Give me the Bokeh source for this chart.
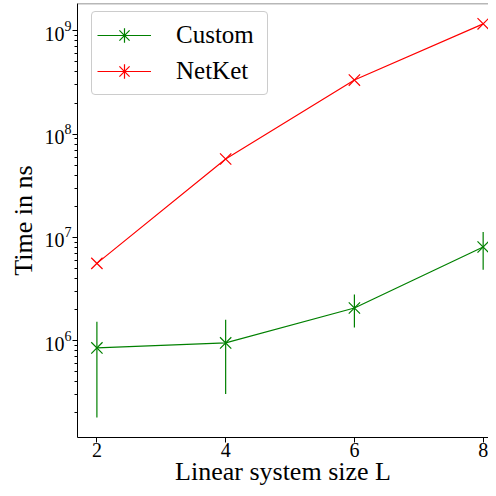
import math
from bokeh.plotting import figure
from bokeh.models import (Range1d, FixedTicker, Legend, LegendItem, ColumnDataSource,
                          Span, LogTickFormatter)
from bokeh.embed import file_html
from bokeh.resources import INLINE

# ---- data ----
L_values = [2, 4, 6, 8]
custom_time = [8.5e5, 9.5e5, 2.07e6, 8.07e6]
custom_err = [6.7e5, 6.45e5, 7.3e5, 3.2e6]
netket_time = [5.6e6, 5.74e7, 3.34e8, 1.17e9]
netket_err = [0.0, 0.0, 0.0, 0.0]
x_ticks = [2, 4, 6, 8]
y_major_ticks = [1e5, 1e6, 1e7, 1e8, 1e9]
y_minor_ticks = [k * 10 ** n for n in range(5, 10) for k in range(2, 10)]
series_names = ["Custom", "NetKet"]

FONT = "Liberation Serif"
GREEN = "#008000"
RED = "#ff0000"

x_lo, x_hi = 1.6987, 8.083
y_lo, y_hi = 10 ** 5.062, 10 ** 9.2651

p = figure(width=488, height=488, y_axis_type="log",
           x_range=Range1d(x_lo, x_hi), y_range=Range1d(y_lo, y_hi),
           output_backend="svg", toolbar_location=None,
           min_border_left=77, min_border_right=0, min_border_top=3, min_border_bottom=49)
p.grid.visible = False
p.outline_line_color = None
p.background_fill_color = "white"
p.border_fill_color = "white"

p.add_layout(Span(location=y_hi, dimension="width", line_color="#707070", line_width=1.5))

# axes
p.xaxis.ticker = FixedTicker(ticks=x_ticks, minor_ticks=[])
p.yaxis.ticker = FixedTicker(ticks=y_major_ticks, minor_ticks=y_minor_ticks)
p.yaxis.formatter = LogTickFormatter()
for ax in (p.xaxis, p.yaxis):
    ax.axis_line_color = "black"
    ax.axis_line_width = 1
    ax.major_tick_line_color = "black"
    ax.minor_tick_line_color = "black"
    ax.major_tick_out = 5
    ax.major_tick_in = 0
    ax.minor_tick_out = 3
    ax.minor_tick_in = 0
    ax.major_label_text_font = FONT
    ax.major_label_text_font_size = "20px"
    ax.major_label_text_color = "black"
    ax.axis_label_text_font = FONT
    ax.axis_label_text_font_size = "26px"
    ax.axis_label_text_font_style = "normal"
    ax.axis_label_text_color = "black"
p.xaxis.axis_label = "Linear system size L"
p.yaxis.axis_label = "Time in ns"
p.xaxis.major_label_standoff = 0
p.yaxis.major_label_standoff = 1
p.xaxis.axis_label_standoff = -3
p.yaxis.axis_label_standoff = 4

# sources
src_c = ColumnDataSource(dict(x=L_values, y=custom_time,
                              lo=[t - e for t, e in zip(custom_time, custom_err)],
                              hi=[t + e for t, e in zip(custom_time, custom_err)]))
src_n = ColumnDataSource(dict(x=L_values, y=netket_time,
                              lo=[t - e for t, e in zip(netket_time, netket_err)],
                              hi=[t + e for t, e in zip(netket_time, netket_err)]))

items = []
for src, color, name in ((src_c, GREEN, series_names[0]), (src_n, RED, series_names[1])):
    ln = p.line("x", "y", source=src, line_color=color, line_width=1.2)
    eb = p.segment(x0="x", y0="lo", x1="x", y1="hi", source=src, line_color=color, line_width=1.2)
    mk = p.scatter("x", "y", source=src, marker="x", size=16, line_color=color, line_width=1.2)
    # legend sample of the error bar: hidden in the plot, drawn only in the legend
    bar = p.scatter("x", "y", source=src, marker="cross", size=16,
                    line_color=color, line_width=1.2, visible=False)
    items.append(LegendItem(label=name, renderers=[ln, mk, bar]))

legend = Legend(items=items, location=(14, 342), glyph_width=54, glyph_height=36,
                label_standoff=25, label_width=86, padding=5, spacing=0, margin=0,
                label_text_font=FONT, label_text_font_size="25px", label_text_color="black",
                border_line_color="#cccccc", border_line_alpha=1, border_line_width=1,
                background_fill_color="white", background_fill_alpha=0.8,
                border_radius=4, click_policy="none")
p.add_layout(legend)

open("out.html", "w").write(file_html(p, INLINE))
